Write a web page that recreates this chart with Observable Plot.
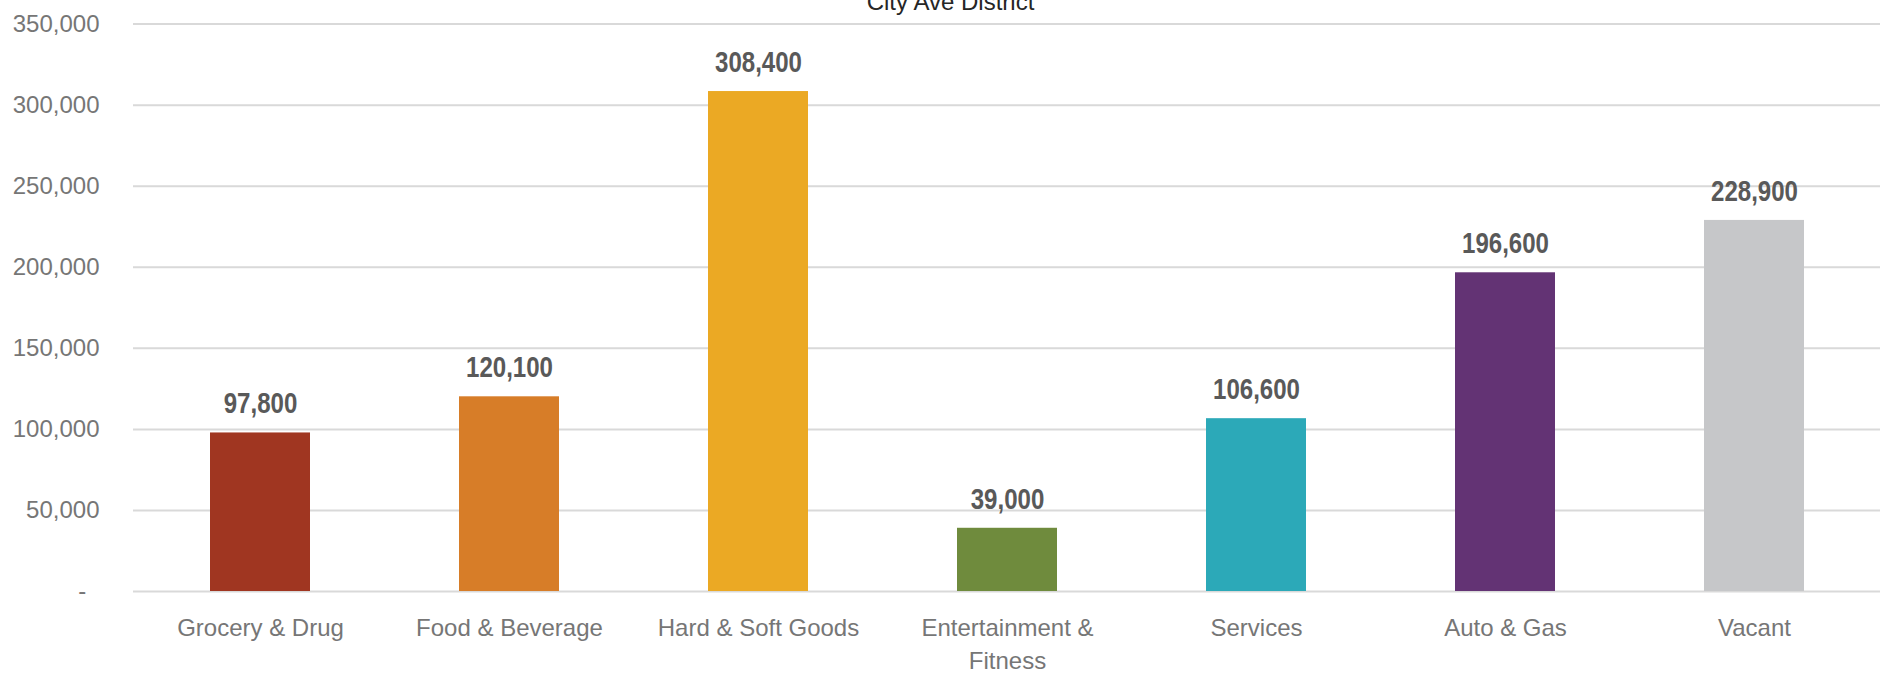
<!DOCTYPE html>
<html><head><meta charset="utf-8">
<script src="https://cdn.jsdelivr.net/npm/d3@7"></script>
<script src="https://cdn.jsdelivr.net/npm/@observablehq/plot@0.6"></script>
<style>
html,body{margin:0;padding:0;background:#fff;overflow:hidden;}
#wrap{position:relative;width:1883px;height:673px;}
#title{position:absolute;left:9px;width:1883px;top:-10.5px;text-align:center;font:24px/24px "Liberation Sans",Arial,sans-serif;color:#262626;margin:0;z-index:2;}
#chart svg{display:block;}
</style></head><body>
<div id="wrap"><div id="title">City Ave District</div><div id="chart"></div></div>
<script>
const categories = ["Grocery & Drug", "Food & Beverage", "Hard & Soft Goods", "Entertainment & Fitness", "Services", "Auto & Gas", "Vacant"];
const tickLabels = ["Grocery & Drug", "Food & Beverage", "Hard & Soft Goods", "Entertainment &\nFitness", "Services", "Auto & Gas", "Vacant"];
const values = [97800, 120100, 308400, 39000, 106600, 196600, 228900];
const colors = ["#A03621", "#D77D28", "#EBA924", "#6F8B3D", "#2CA9B8", "#633374", "#C6C7C9"];
const yTicks = [0, 50000, 100000, 150000, 200000, 250000, 300000, 350000];

const data = categories.map((c, i) => ({category: c, value: values[i], color: colors[i]}));
const fmt = d3.format(",");
const labelTexts = new Set(values.map(v => fmt(v)));

const chart = Plot.plot({
  width: 1883, height: 673,
  marginTop: 23.6, marginBottom: 82, marginLeft: 133, marginRight: 3,
  style: {fontFamily: '"Liberation Sans", Arial, sans-serif', fontSize: "24px", color: "#767676", background: "#fff"},
  x: {domain: categories, paddingInner: 0.6, paddingOuter: 0.3, label: null},
  y: {domain: [0, 350000], label: null},
  color: {type: "identity"},
  marks: [
    Plot.gridY(yTicks, {stroke: "#d9d9d9", strokeWidth: 2, strokeOpacity: 1}),
    Plot.barY(data, {x: "category", y: "value", fill: "color"}),
    Plot.text(data, {x: "category", y: "value", text: d => fmt(d.value), dy: -19.5, lineAnchor: "bottom",
      fontWeight: "bold", fontSize: 29, fill: "#595959"}),
    Plot.axisY({ticks: yTicks, tickSize: 0, tickPadding: 34, fontSize: 24, fill: "#767676",
      tickFormat: d => d === 0 ? "-\u2007" : fmt(d)}),
    Plot.axisX({tickSize: 0, tickPadding: 21, fontSize: 24, fill: "#767676", lineHeight: 1.37,
      tickFormat: d => tickLabels[categories.indexOf(d)]})
  ]
});
// condensed look of the data labels (Arial Narrow style): scale each label horizontally about its anchor
chart.querySelectorAll("text").forEach(el => {
  if (!labelTexts.has(el.textContent)) return;
  const g = el.parentNode;
  if (!g || g.getAttribute("font-weight") !== "bold") return;
  let t = el.getAttribute("transform");
  if (!t) {
    const x = +el.getAttribute("x") || 0, y = +el.getAttribute("y") || 0;
    el.removeAttribute("x");
    t = `translate(${x},${y})`;
    if (el.hasAttribute("y") && String(el.getAttribute("y")).endsWith("em")) {
      t = `translate(${x},0)`;
    } else {
      el.removeAttribute("y");
    }
  }
  el.setAttribute("transform", t + " scale(0.83,1)");
});
document.getElementById("chart").appendChild(chart);
</script>
</body></html>
